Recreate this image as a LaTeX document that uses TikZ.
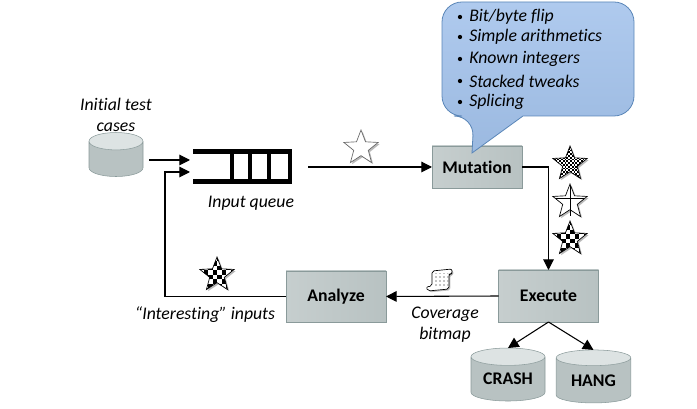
\documentclass[tikz,border=0pt]{standalone}
\usepackage{fontspec}
\setmainfont[Ligatures=NoCommon]{Carlito}
\usetikzlibrary{positioning,shapes.geometric,arrows.meta,shadows,patterns}
\definecolor{boxlight}{HTML}{C6CECE}
\definecolor{boxdark}{HTML}{B8C2C2}
\definecolor{boxline}{HTML}{8A9A9A}
\definecolor{bubbletop}{HTML}{AFCAEE}
\definecolor{bubblelow}{HTML}{9BB9E0}
\definecolor{bubbleline}{HTML}{5A86B8}
\definecolor{endfill}{HTML}{DDE3E3}
\newcommand{\checkcells}[1]{\begin{scope}[shift={(path picture bounding box.center)}]
	\foreach \i in {-12,...,12}
		\foreach \j in {-12,...,12}{
			\pgfmathtruncatemacro{\cellodd}{mod(\i+\j+48,2)}
			\ifnum\cellodd=0
				\fill[black] (\i*#1,\j*#1) rectangle ++(#1,#1);
			\fi
		}
	\end{scope}}
\tikzset{
	box/.style={draw=boxline, left color=boxlight, right color=boxdark, font=\bfseries\fontsize{13.3}{15}\selectfont, inner sep=0pt, outer sep=0pt},
	db/.style={cylinder, shape border rotate=90, draw=boxline, cylinder uses custom fill, cylinder body fill=boxdark, cylinder end fill=endfill, aspect=0.35, inner sep=0pt, outer sep=0pt, font=\bfseries\fontsize{13.3}{15}\selectfont},
	note/.style={font=\itshape\fontsize{13.3}{15.5}\selectfont, align=center, inner sep=0pt},
	flow/.style={draw=black, line width=0.8pt, -{Triangle[length=8pt,width=8pt]}},
	token/.style={star, star points=5, star point ratio=2.35, minimum size=27pt, inner sep=0pt, draw=black, line width=0.5pt, fill=white, drop shadow={shadow xshift=1.2pt, shadow yshift=-1.2pt, opacity=.55}},
	checker/.style={token, path picture={\checkcells{#1}}}
}
\begin{document}
\begin{tikzpicture}[x=0.75pt, y=-0.75pt]
	\useasboundingbox (0,0) rectangle (697,409);

	% boxes
	\node[box, minimum width=67.5pt, minimum height=31.5pt] (mutation) at (477,167) {Mutation};
	\node[box, minimum width=75pt, minimum height=39pt] (execute) at (548.5,296) {Execute};
	\node[box, minimum width=75pt, minimum height=38.5pt] (analyze) at (336,296.5) {Analyze};

	% tweak bubble
	\draw[draw=bubbleline, top color=bubbletop, bottom color=bubblelow, line width=0.6pt]
		[rounded corners=15pt] (523,116) -- (634,116) -- (634,2) -- (442,2) -- (442,116) -- (474,116)
		[sharp corners] -- (472,153) -- (523,116) -- cycle;
	\foreach \i/\y/\tweak in {1/17/{Bit/byte flip}, 2/37/{Simple arithmetics}, 3/59/{Known integers}, 4/81/{Stacked tweaks}, 5/102/{Splicing}}{
		\node[circle, fill=black, minimum size=3.2pt, inner sep=0pt] (dot\i) at (460,\y) {};
		\node[note, anchor=west] (tweak\i) at (469,\y) {\tweak};
	}

	% cylinders
	\node[db, minimum width=40.5pt, minimum height=33pt] (seed) at (116,159) {\phantom{CRASH}};
	\node[db, minimum width=55.5pt, minimum height=39.75pt] (crash) at (508,379) {CRASH};
	\node[db, minimum width=56pt, minimum height=39.75pt] (hang) at (593.5,380.5) {HANG};

	% queue
	\draw[line width=3.6pt, line join=miter] (193,151.5) -- (290,151.5) -- (290,181.5) -- (193,181.5);
	\foreach \x in {232,250,269}
		\draw[line width=3pt] (\x,151.5) -- (\x,181.5);
	\coordinate (queuetop) at (190,160);
	\coordinate (queuelow) at (190,172);
	\coordinate (queueout) at (308,167);

	% connectors
	\draw[flow] ([xshift=4.5pt]seed.east |- queuetop) -- (queuetop);
	\draw[flow] (analyze.west) -| (165,172) -- (queuelow);
	\draw[flow] (queueout) -- (mutation.west);
	\draw[flow] (mutation.east) -| (execute.north);
	\draw[flow] (execute.west) -- (analyze.east);
	\draw[flow] (execute.south) -- (crash.north);
	\draw[flow] (execute.south) -- (hang.north);

	% tokens
	\node[token, draw=black!60] (newinput) at (361,148) {};
	\node[checker=1.8] (fineinput) at (570,164) {};
	\node[token] (plaininput) at (570,202) {};
	\draw[line width=0.5pt] (570,186) -- (570,216) (556,198) -- (584,198);
	\node[checker=4.5] (coarseinput) at (570,239) {};
	\node[checker=4.5] (goodinput) at (217,275) {};

	% scroll
	\draw[draw=black, fill=white, line width=0.5pt, drop shadow={shadow xshift=1pt, shadow yshift=-1pt, opacity=.5}]
		(432,271) [rounded corners=1.5pt] -- (452,269) -- (452,274) -- (449,274) -- (449,289) -- (428,291) -- (426,287) -- (432,286) -- cycle;
	\fill[pattern=dots] (433,274) rectangle (448,288);

	% labels
	\node[note] (seedtext) at (116,115) {Initial test\\cases};
	\node[note] (queuetext) at (251,203) {Input queue};
	\node[note] (goodtext) at (205,315) {“Interesting” inputs};
	\node[note] (bitmaptext) at (445,325) {Coverage\\bitmap};
\end{tikzpicture}
\end{document}
